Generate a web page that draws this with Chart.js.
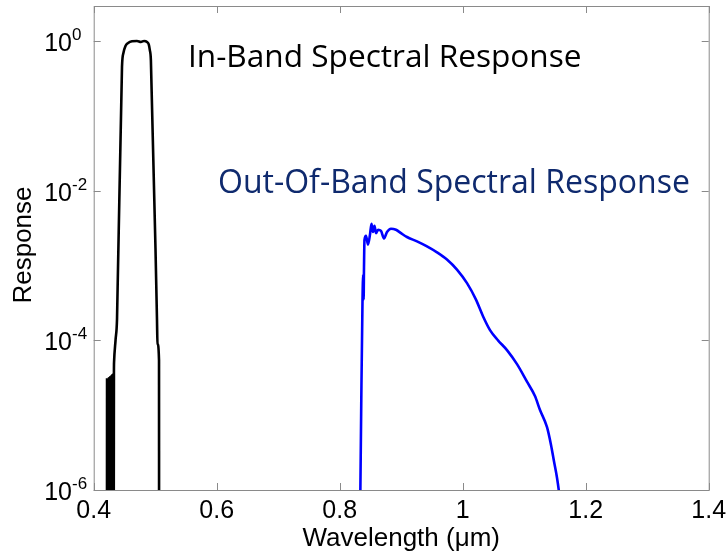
<!DOCTYPE html>
<html>
<head>
<meta charset="utf-8">
<title>Spectral Response</title>
<script src="https://cdn.jsdelivr.net/npm/chart.js@4.4.1/dist/chart.umd.min.js"></script>
<style>
  html, body { margin: 0; padding: 0; background: #fff; }
  #wrap { width: 728px; height: 554px; }
</style>
</head>
<body>
<div id="wrap"><canvas id="spectral" width="728" height="554"></canvas></div>
<script>
// In-band response (black) - the dense bit at the start is the noisy floor
var inBandWl = [
    0.4216, 0.4217, 0.4221, 0.4224, 0.4228, 0.4231, 0.4235, 0.4238, 0.4242, 0.4245,
    0.4249, 0.4252, 0.4256, 0.4259, 0.4263, 0.4266, 0.4270, 0.4273, 0.4277, 0.4280,
    0.4284, 0.4287, 0.4291, 0.4294, 0.4298, 0.4301, 0.4305, 0.4308, 0.4312, 0.4315,
    0.4319, 0.4322, 0.4326, 0.4329, 0.4331, 0.4355, 0.4379, 0.4460, 0.4485, 0.4515,
    0.4560, 0.4623, 0.4704, 0.4769, 0.4818, 0.4867, 0.4895, 0.4912, 0.4930, 0.5029,
    0.5037, 0.5062, 0.5063
];
var inBandResp = [
    5e-7, 3.0e-5, 4e-7, 2.9e-5, 5e-7, 3.0e-5, 4e-7, 3.1e-5, 5e-7, 3.0e-5,
    4e-7, 3.1e-5, 5e-7, 3.2e-5, 4e-7, 3.1e-5, 5e-7, 3.2e-5, 4e-7, 3.3e-5,
    5e-7, 3.2e-5, 4e-7, 3.4e-5, 5e-7, 3.3e-5, 4e-7, 3.5e-5, 5e-7, 3.4e-5,
    4e-7, 3.6e-5, 5e-7, 3.8e-5, 5.1e-5, 1.0e-4, 1.9e-4, 0.45, 0.70, 0.85,
    0.94, 0.99, 1.0, 0.97, 1.0, 0.97, 0.90, 0.76, 0.55, 1.9e-4,
    9.0e-5, 5.4e-5, 5e-7
];

// Out-of-band response (blue)
var outBandWl = [
    0.8335, 0.8351, 0.8371, 0.8382, 0.8389, 0.8395, 0.8403, 0.8428, 0.8460, 0.8493,
    0.8517, 0.8541, 0.8566, 0.8590, 0.8623, 0.8672, 0.8720, 0.8769, 0.8834, 0.8915,
    0.8997, 0.9094, 0.9257, 0.9419, 0.9582, 0.9744, 0.9907, 1.0070, 1.0216, 1.0330,
    1.0444, 1.0574, 1.0720, 1.0883, 1.1045, 1.1175, 1.1257, 1.1371, 1.1436, 1.1485,
    1.1534, 1.1566, 1.1582
];
var outBandResp = [
    8e-7, 1.6e-5, 3.5e-4, 7.5e-4, 3.5e-4, 9.3e-4, 2.2e-3, 2.5e-3, 1.9e-3, 2.6e-3,
    3.6e-3, 2.8e-3, 3.4e-3, 2.7e-3, 3.0e-3, 2.9e-3, 2.3e-3, 2.8e-3, 3.1e-3, 3.0e-3,
    2.7e-3, 2.4e-3, 2.1e-3, 1.8e-3, 1.5e-3, 1.2e-3, 8.8e-4, 5.8e-4, 3.5e-4, 2.1e-4,
    1.37e-4, 1.0e-4, 7.4e-5, 4.8e-5, 2.8e-5, 1.8e-5, 1.17e-5, 6.9e-6, 4.0e-6, 2.4e-6,
    1.45e-6, 9.4e-7, 7e-7
];

// axis ticks
var xTicks = [0.4, 0.6, 0.8, 1, 1.2, 1.4];
var xTickLabels = ["0.4", "0.6", "0.8", "1", "1.2", "1.4"];
var yTicks = [1, 1e-2, 1e-4, 1e-6];
var yTickExp = ["0", "-2", "-4", "-6"];

function toPoints(xs, ys) {
    var pts = [];
    for (var i = 0; i < xs.length; i++) {
        pts.push({ x: xs[i], y: ys[i] });
    }
    return pts;
}

// font size that makes a string span a given width
function fitFont(ctx, text, family, width) {
    ctx.font = "100px " + family;
    return 100 * width / ctx.measureText(text).width;
}

// MATLAB style box: inward ticks, superscript decade labels, annotations
var matlabAxes = {
    id: 'matlabAxes',
    afterDraw: function(chart) {
        var ctx = chart.ctx;
        var a = chart.chartArea;
        var xs = chart.scales.x;
        var ys = chart.scales.y;
        var i, px;
        ctx.save();

        ctx.strokeStyle = '#8a8a8a';
        ctx.lineWidth = 1;
        ctx.strokeRect(a.left + 0.5, a.top + 0.5, a.right - a.left, a.bottom - a.top);

        ctx.beginPath();
        for (i = 0; i < xTicks.length; i++) {
            px = Math.round(xs.getPixelForValue(xTicks[i])) + 0.5;
            ctx.moveTo(px, a.bottom);
            ctx.lineTo(px, a.bottom - 7);
            ctx.moveTo(px, a.top);
            ctx.lineTo(px, a.top + 7);
        }
        for (i = 0; i < yTicks.length; i++) {
            px = Math.round(ys.getPixelForValue(yTicks[i])) + 0.5;
            ctx.moveTo(a.left, px);
            ctx.lineTo(a.left + 7, px);
            ctx.moveTo(a.right, px);
            ctx.lineTo(a.right - 7, px);
        }
        ctx.stroke();

        ctx.fillStyle = '#000';
        ctx.font = '25px "Liberation Sans", Arial, sans-serif';
        ctx.textAlign = 'center';
        ctx.textBaseline = 'alphabetic';
        for (i = 0; i < xTicks.length; i++) {
            ctx.fillText(xTickLabels[i], xs.getPixelForValue(xTicks[i]), 518);
        }

        for (i = 0; i < yTicks.length; i++) {
            px = ys.getPixelForValue(yTicks[i]);
            ctx.font = '25px "Liberation Sans", Arial, sans-serif';
            ctx.textAlign = 'right';
            ctx.fillText("10", 72, px + 10);
            ctx.font = '17px "Liberation Sans", Arial, sans-serif';
            ctx.textAlign = 'left';
            ctx.fillText(yTickExp[i], 72, px - 1);
        }

        ctx.font = '26px "Liberation Sans", Arial, sans-serif';
        ctx.textAlign = 'center';
        ctx.fillText("Wavelength (\u03bcm)", (a.left + a.right) / 2, 546);

        ctx.save();
        ctx.translate(31, 245);
        ctx.rotate(-Math.PI / 2);
        ctx.fillText("Response", 0, 0);
        ctx.restore();

        // band labels
        var fam = '"Open Sans", sans-serif';
        var t1 = "In-Band Spectral Response";
        var t2 = "Out-Of-Band Spectral Response";
        ctx.textAlign = 'left';
        ctx.font = fitFont(ctx, t1, fam, 394).toFixed(1) + 'px ' + fam;
        ctx.fillStyle = '#000';
        ctx.fillText(t1, 188, 67);
        ctx.font = fitFont(ctx, t2, fam, 472).toFixed(1) + 'px ' + fam;
        ctx.fillStyle = '#0f2a6e';
        ctx.fillText(t2, 218, 193);

        ctx.restore();
    }
};

var ctx = document.getElementById('spectral');
var chart = new Chart(ctx, {
    type: 'line',
    data: {
        datasets: [{
            label: 'In-band',
            data: toPoints(inBandWl, inBandResp),
            borderColor: '#000000',
            borderWidth: 2.6,
            pointRadius: 0,
            cubicInterpolationMode: 'monotone'
        }, {
            label: 'Out-of-band',
            data: toPoints(outBandWl, outBandResp),
            borderColor: '#0000ff',
            borderWidth: 2.6,
            pointRadius: 0,
            cubicInterpolationMode: 'monotone'
        }]
    },
    options: {
        responsive: false,
        animation: false,
        devicePixelRatio: 1,
        layout: { padding: { top: 6, right: 19.3, left: 0, bottom: 0 } },
        plugins: {
            legend: { display: false },
            tooltip: { enabled: false }
        },
        scales: {
            x: {
                type: 'linear',
                min: 0.4,
                max: 1.4,
                grid: { display: false },
                border: { display: false },
                ticks: { display: false },
                afterFit: function(s) { s.height = 64; }
            },
            y: {
                type: 'logarithmic',
                min: 1e-6,
                max: 2.93,
                grid: { display: false },
                border: { display: false },
                ticks: { display: false },
                afterFit: function(s) { s.width = 93.7; }
            }
        }
    },
    plugins: [matlabAxes]
});
</script>
</body>
</html>
